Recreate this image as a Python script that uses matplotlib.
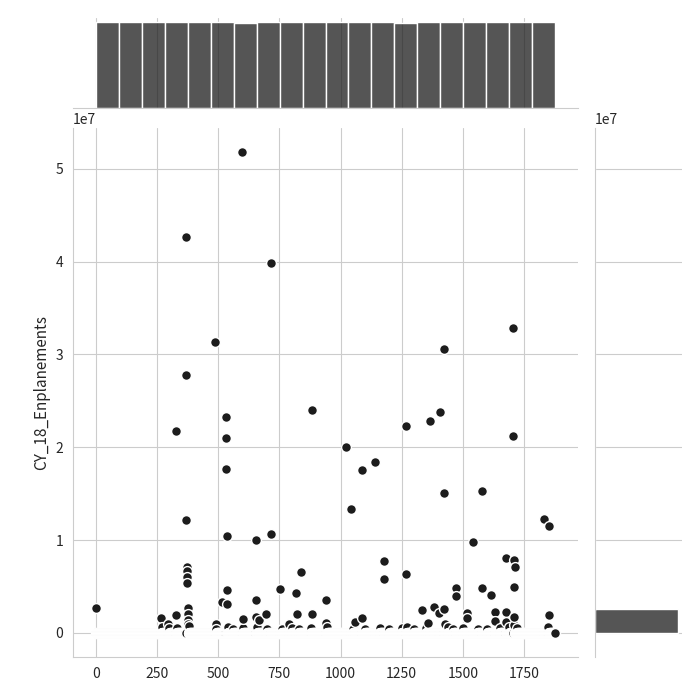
import numpy as np
import pandas as pd
import seaborn as sns
from matplotlib import pyplot as plt

# number of airports (row index on the x axis)
n_rows = 1878

# visible larger values: row index -> CY_18_Enplanements
big_idx = [597, 367, 715, 1707, 486, 1423, 368, 883, 1405, 531, 1366, 1266, 327, 1706,
           532, 1022, 1141, 533, 1088, 1579, 1424, 1043, 1831, 369, 1853, 716, 535, 654,
           1542, 1676, 1708, 1178, 1713, 371, 372, 837, 1267, 373, 1179, 374, 1472, 1710,
           1580, 752, 536, 819, 1615, 1473, 940, 655, 516, 537, 0, 1381, 375, 1425, 1332,
           1632, 1677, 1517, 1403, 695, 820, 884, 376, 328, 1854, 1711, 656, 1089, 1518,
           264, 665, 601, 377, 1633, 1059, 1678, 941, 1359, 788, 490, 378, 1427, 295, 1709]
big_val = [51800000, 42600000, 39800000, 32900000, 31300000, 30600000, 27800000, 24000000,
           23800000, 23300000, 22800000, 22300000, 21700000, 21200000, 21000000, 20000000,
           18400000, 17700000, 17500000, 15300000, 15100000, 13400000, 12300000, 12200000,
           11500000, 10700000, 10400000, 10000000, 9800000, 8100000, 7900000, 7700000,
           7100000, 7100000, 6700000, 6600000, 6300000, 6000000, 5800000, 5400000,
           4800000, 4900000, 4800000, 4700000, 4600000, 4300000, 4100000, 4000000,
           3600000, 3600000, 3300000, 3100000, 2700000, 2800000, 2700000, 2600000,
           2500000, 2300000, 2300000, 2200000, 2100000, 2000000, 2000000, 2000000,
           2000000, 1900000, 1900000, 1700000, 1700000, 1600000, 1600000, 1600000,
           1400000, 1500000, 1400000, 1300000, 1200000, 1200000, 1100000, 1100000,
           1000000, 1000000, 1000000, 1000000, 950000, 900000]

# small values just above the baseline
small_idx = [270, 300, 330, 380, 492, 540, 560, 600, 660, 700, 760, 800, 830, 880, 945,
             1050, 1100, 1160, 1200, 1250, 1270, 1300, 1350, 1440, 1460, 1500, 1560,
             1600, 1650, 1690, 1720, 1850]
small_val = [600000, 500000, 550000, 700000, 450000, 650000, 400000, 500000, 600000,
             450000, 400000, 550000, 450000, 500000, 600000, 450000, 400000, 500000,
             450000, 550000, 650000, 400000, 500000, 600000, 450000, 500000, 400000,
             450000, 550000, 600000, 500000, 650000]

enpl = np.zeros(n_rows)
enpl[small_idx] = small_val
enpl[big_idx] = big_val
df = pd.DataFrame({"CY_18_Enplanements": enpl})

sns.set_style("whitegrid")
plt.rcParams["font.family"] = ["Noto Sans CJK SC", "DejaVu Sans"]
plt.rcParams["axes.unicode_minus"] = False

g = sns.jointplot(x=df.index, y=df["CY_18_Enplanements"], color="#1c1c1c", height=7,
                  joint_kws=dict(s=50, edgecolor="white", linewidth=1),
                  marginal_kws=dict(bins=20, alpha=0.75))
g.ax_joint.set_xlabel("")
g.ax_joint.set_ylabel("CY_18_Enplanements", fontsize=11)
g.ax_joint.set_xticks([0, 250, 500, 750, 1000, 1250, 1500, 1750])
g.ax_joint.tick_params(labelsize=10)

fig = g.figure
fig.set_size_inches(7, 7)
g.ax_joint.set_position([73 / 700, 43 / 700, 505 / 700, 529 / 700])
g.ax_marg_x.set_position([73 / 700, 592 / 700, 505 / 700, 90 / 700])
g.ax_marg_y.set_position([595 / 700, 43 / 700, 87 / 700, 529 / 700])
fig.savefig("out.png", dpi=100)
